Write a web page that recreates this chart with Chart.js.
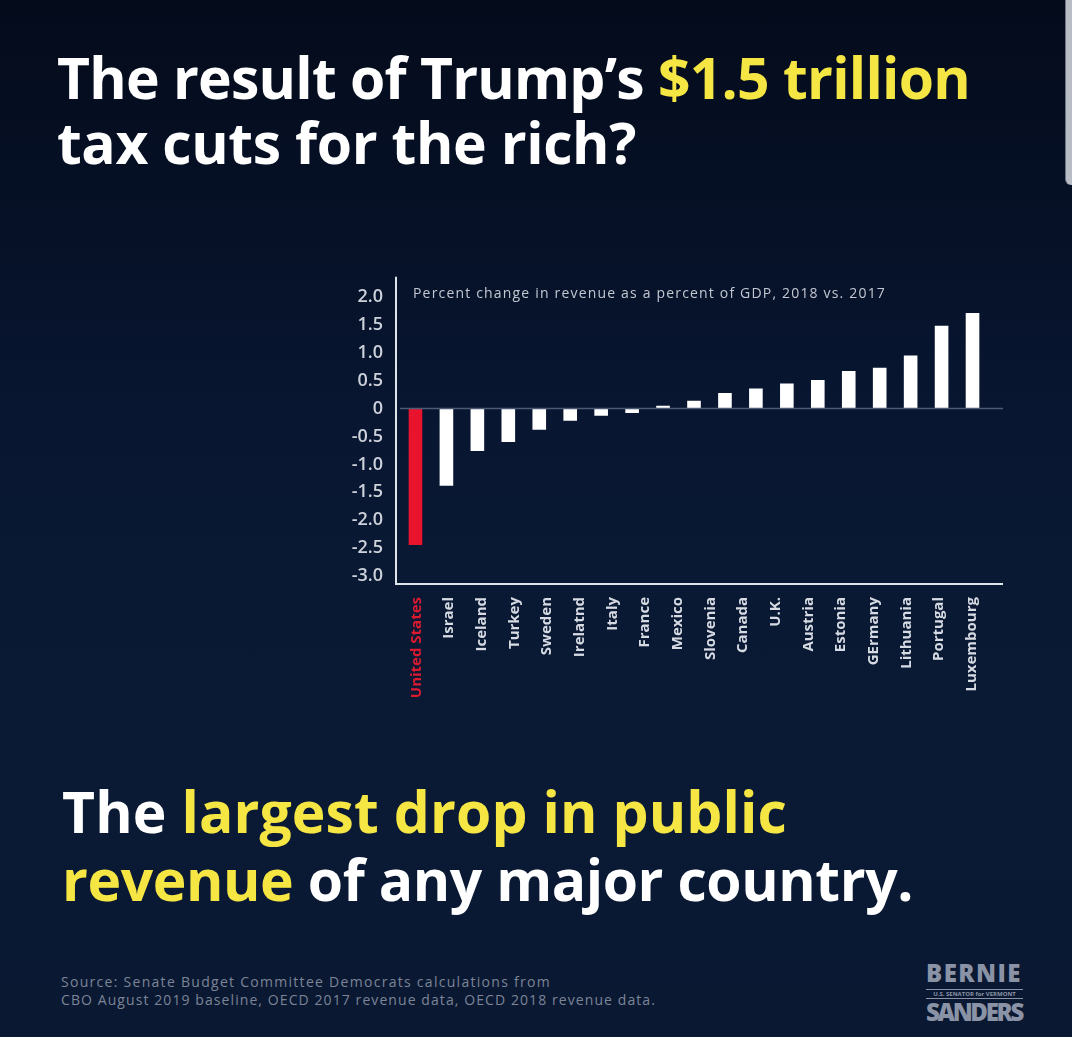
<!DOCTYPE html>
<html>
<head>
<meta charset="utf-8">
<title>Revenue change 2018 vs 2017</title>
<script src="https://cdn.jsdelivr.net/npm/chart.js@4.4.1/dist/chart.umd.min.js"></script>
<style>
  html, body { margin: 0; padding: 0; }
  body {
    width: 1072px; height: 1037px; overflow: hidden; position: relative;
    background: linear-gradient(180deg, #040b1b 0%, #081631 40%, #0a1a35 70%, #0a1832 100%);
    font-family: 'Open Sans', sans-serif;
  }
  .line { position: absolute; white-space: nowrap; font-weight: 700; color: #fff; }
  .big  { font-size: 57px; line-height: 1; }
  .yel  { color: #f5e644; }
  #wrap { position: absolute; left: 300px; top: 250px; width: 740px; height: 480px; }
  #sub  { position: absolute; left: 413px; top: 283px; font-size: 14px; color: #c3c8d2; white-space: nowrap; }
  .src  { position: absolute; left: 61px; font-size: 14px; color: #7c8597; white-space: nowrap; }
  #logo { position: absolute; left: 926px; top: 962px; width: 97px; color: #8a93a5; }
  #logo .n { display: inline-block; font-weight: 800; font-size: 24px; line-height: 22px; white-space: nowrap; }
  #logo .s { font-size: 6px; line-height: 8px; border-top: 1px solid #8a93a5; border-bottom: 1px solid #8a93a5;
             margin: 2px 0; font-weight: 700; text-align: center; white-space: nowrap; }
  #scroll { position: absolute; right: 0; top: 0; width: 6px; height: 185px; background: #b8bcc5;
            border-left: 1px solid #6d7380; border-bottom-left-radius: 6px; }
</style>
</head>
<body>

<div class="line big" data-w="913" style="left:57px; top:49px;">The result of Trump’s <span class="yel">$1.5 trillion</span></div>
<div class="line big" data-w="579" style="left:57px; top:114px;">tax cuts for the rich?</div>

<div id="wrap"><canvas id="revChart"></canvas></div>
<div id="sub" data-w="473">Percent change in revenue as a percent of GDP, 2018 vs. 2017</div>

<div class="line big" data-w="725" style="left:62px; top:783px;">The <span class="yel">largest drop in public</span></div>
<div class="line big" data-w="851" style="left:62px; top:851px;"><span class="yel">revenue</span> of any major country.</div>

<div class="src" data-w="490" style="top:972px;">Source: Senate Budget Committee Democrats calculations from</div>
<div class="src" data-w="595" style="top:990px;">CBO August 2019 baseline, OECD 2017 revenue data, OECD 2018 revenue data.</div>

<div id="logo">
  <div><span class="n" data-w="96">BERNIE</span></div>
  <div class="s">U.S. SENATOR for VERMONT</div>
  <div><span class="n" data-w="96">SANDERS</span></div>
</div>
<div id="scroll"></div>

<script>
/* ── Data ────────────────────────────────────────────── */
const COUNTRIES = ['United States', 'Israel', 'Iceland', 'Turkey', 'Sweden', 'Irelatnd', 'Italy',
                   'France', 'Mexico', 'Slovenia', 'Canada', 'U.K.', 'Austria', 'Estonia',
                   'GErmany', 'Lithuania', 'Portugal', 'Luxembourg'];

// the graphic shows 19 bars under 18 labels
const BAR_VALUES = [-2.44, -1.38, -0.76, -0.60, -0.38, -0.22, -0.13, -0.08, 0.05, 0.14,
                    0.28, 0.36, 0.45, 0.51, 0.67, 0.73, 0.95, 1.48, 1.71];

const Y_TICKS = [2.0, 1.5, 1.0, 0.5, 0, -0.5, -1.0, -1.5, -2.0, -2.5, -3.0];

const RED   = '#e8142d';
const WHITE = '#ffffff';

/* ── Fit text widths ─────────────────────────────────── */
document.querySelectorAll('[data-w]').forEach(el => {
    const target = parseFloat(el.dataset.w);
    const w = el.getBoundingClientRect().width;
    const n = el.textContent.length;
    el.style.letterSpacing = ((target - w) / n) + 'px';
});

/* ── Axis lines plugin ───────────────────────────────── */
const axisLines = {
    id: 'axisLines',
    afterDatasetsDraw(chart) {
        const { ctx, chartArea: a, scales } = chart;
        const y0 = scales.y.getPixelForValue(0);
        ctx.save();
        ctx.strokeStyle = '#4c5a74';
        ctx.lineWidth = 1.5;
        ctx.beginPath();
        ctx.moveTo(a.left, y0);
        ctx.lineTo(a.right + 15, y0);
        ctx.stroke();

        ctx.strokeStyle = '#dfe3ea';
        ctx.lineWidth = 2;
        ctx.beginPath();
        ctx.moveTo(a.left - 4, a.top - 1);
        ctx.lineTo(a.left - 4, a.bottom);
        ctx.lineTo(a.right + 15, a.bottom);
        ctx.stroke();
        ctx.restore();
    }
};

/* ── Chart ───────────────────────────────────────────── */
new Chart(document.getElementById('revChart'), {
    type: 'bar',
    data: {
        datasets: [{
            data: BAR_VALUES,
            xAxisID: 'xb',
            backgroundColor: BAR_VALUES.map((_, i) => i === 0 ? RED : WHITE),
            borderWidth: 0,
            barPercentage: 0.44,
            categoryPercentage: 1,
        }]
    },
    options: {
        responsive: true,
        maintainAspectRatio: false,
        animation: false,
        layout: { padding: { top: 24, right: 52, left: 0, bottom: 0 } },
        plugins: { legend: { display: false }, tooltip: { enabled: false } },
        scales: {
            xb: {
                type: 'category',
                labels: BAR_VALUES.map((_, i) => String(i)),
                offset: true,
                display: false,
            },
            x: {
                type: 'category',
                labels: COUNTRIES,
                offset: true,
                position: 'bottom',
                grid: { display: false, drawTicks: false },
                border: { display: false },
                afterFit: s => { s.height = 146; },
                ticks: {
                    autoSkip: false,
                    minRotation: 90,
                    maxRotation: 90,
                    padding: 13,
                    color: ctx => ctx.index === 0 ? '#dc1a30' : '#d6dae2',
                    font: { family: "'Open Sans', sans-serif", size: 15, weight: '700' }
                }
            },
            y: {
                min: -3.14,
                max: 2.34,
                afterFit: s => { s.width = 100; },
                afterBuildTicks: s => { s.ticks = Y_TICKS.map(v => ({ value: v })); },
                grid: { display: false, drawTicks: false },
                border: { display: false },
                ticks: {
                    padding: 17,
                    color: '#cdd1da',
                    callback: v => v === 0 ? '0' : v.toFixed(1),
                    font: { family: "'Open Sans', sans-serif", size: 18, weight: '600' }
                }
            }
        }
    },
    plugins: [axisLines]
});
</script>
</body>
</html>
